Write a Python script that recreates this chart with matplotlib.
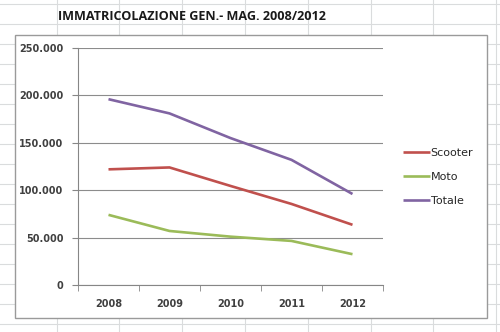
import matplotlib
matplotlib.use("Agg")
import matplotlib.pyplot as plt
from matplotlib.lines import Line2D
from matplotlib.patches import Rectangle
from matplotlib.ticker import FuncFormatter, FixedLocator

years = ["2008", "2009", "2010", "2011", "2012"]
scooter = [122000, 124000, 104500, 85500, 63500]
moto = [74000, 57000, 51000, 46500, 32500]
totale = [196000, 181000, 155000, 132000, 96000]
series_names = ["Scooter", "Moto", "Totale"]
colors = ["#C0504D", "#9BBB59", "#8064A2"]
title = "IMMATRICOLAZIONE GEN.- MAG. 2008/2012"

W, H = 500, 332
fig = plt.figure(figsize=(W / 100, H / 100), dpi=100)
fig.patch.set_facecolor("white")

def fx(x):
    return x / W

def fy(y):
    return 1 - y / H

# spreadsheet grid in the background
grid_c = "#dadcdd"
for x in [57, 119, 182, 245, 308, 371, 433, 496]:
    fig.add_artist(Line2D([fx(x), fx(x)], [0, 1], color=grid_c, lw=0.8, zorder=0))
for y in range(4, H, 20):
    fig.add_artist(Line2D([0, 1], [fy(y), fy(y)], color=grid_c, lw=0.8, zorder=0))

# chart box
fig.add_artist(Rectangle((fx(15), fy(318)), fx(487) - fx(15), fy(35) - fy(318),
                         transform=fig.transFigure, facecolor="white",
                         edgecolor="#9a9a9a", lw=1.0, zorder=1))

fig.text(fx(58), fy(17), title, fontsize=9.1, fontweight="bold",
         family="Open Sans", color="#1a1a1a", va="center", ha="left", zorder=2)

ax = fig.add_axes([fx(78), fy(285), fx(383) - fx(78), fy(48) - fy(285)], zorder=3)
ax.set_facecolor("none")
xs = list(range(len(years)))
for vals, name, c in zip([scooter, moto, totale], series_names, colors):
    ax.plot(xs, vals, color=c, lw=1.9, label=name, solid_capstyle="butt")

ax.set_xlim(-0.5, len(years) - 0.5)
ax.set_ylim(0, 250000)
ax.set_yticks([0, 50000, 100000, 150000, 200000, 250000])
ax.yaxis.set_major_formatter(FuncFormatter(lambda v, p: f"{v:,.0f}".replace(",", ".")))
ax.set_xticks(xs)
ax.set_xticklabels(years)
ax.xaxis.set_minor_locator(FixedLocator([i - 0.5 for i in range(len(years) + 1)]))
ax.tick_params(axis="x", which="major", length=0, pad=10, labelsize=7, labelcolor="#404040")
ax.tick_params(axis="x", which="minor", length=4, color="#868686", direction="out")
ax.tick_params(axis="y", length=4, color="#868686", pad=6.5, labelsize=7, labelcolor="#404040")
for lab in ax.get_xticklabels() + ax.get_yticklabels():
    lab.set_fontweight("bold")
ax.grid(axis="y", color="#8c8c8c", lw=0.8)
ax.set_axisbelow(True)
for s in ["top", "right"]:
    ax.spines[s].set_visible(False)
for s in ["left", "bottom"]:
    ax.spines[s].set_color("#868686")
    ax.spines[s].set_linewidth(0.8)

leg = ax.legend(loc="upper left", bbox_to_anchor=(fx(403), fy(148)),
                bbox_transform=fig.transFigure, frameon=False, fontsize=8,
                handlelength=2.4, handletextpad=0.08, labelspacing=1.25,
                borderaxespad=0, borderpad=0)
for t in leg.get_texts():
    t.set_color("#262626")

fig.savefig("out.png", dpi=100)
